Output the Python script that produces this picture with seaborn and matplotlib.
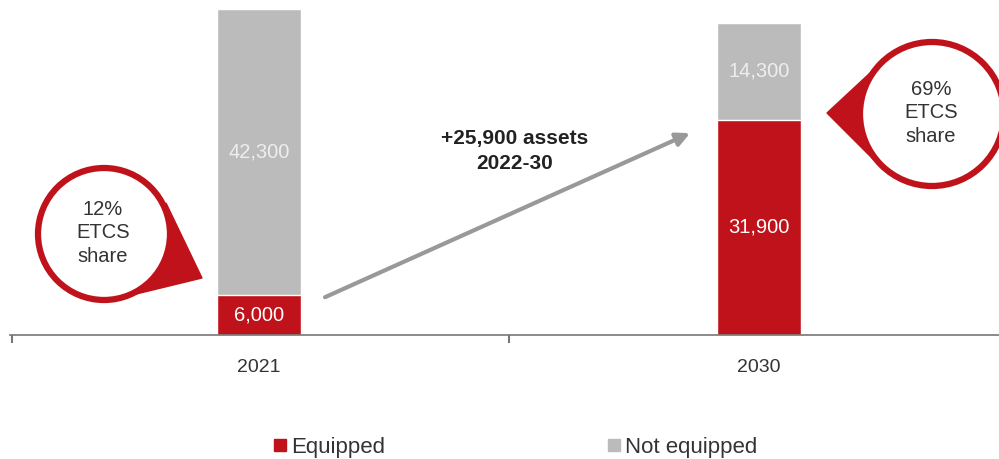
import matplotlib
matplotlib.use("Agg")
import matplotlib.pyplot as plt
import seaborn as sns
import pandas as pd
import numpy as np
from matplotlib.patches import Circle, Polygon
from matplotlib.lines import Line2D

# data
years = ["2021", "2030"]
equipped = [6000, 31900]
not_equipped = [42300, 14300]
share_labels = ["12%\nETCS\nshare", "69%\nETCS\nshare"]
growth_label = "+25,900 assets\n2022-30"

RED = "#c0121a"
GREY = "#bbbbbb"
TXT = "#333333"

df = pd.DataFrame({"Year": years, "Equipped": equipped, "NotEquipped": not_equipped})
df["Total"] = df["Equipped"] + df["NotEquipped"]

sns.set_style("white")
plt.rcParams["font.family"] = ["Liberation Sans", "DejaVu Sans"]

fig = plt.figure(figsize=(9.99, 4.59), dpi=100)
ax = fig.add_axes([10 / 999, (459 - 335) / 459, 989 / 999, (335 - 9) / 459])

# stacked bars: grey total behind, red equipped in front
sns.barplot(data=df, x="Year", y="Total", color=GREY, width=0.168, saturation=1, ax=ax)
sns.barplot(data=df, x="Year", y="Equipped", color=RED, width=0.168, saturation=1, ax=ax)

ax.set_xlim(-0.498, 1.48)
ax.set_ylim(0, 48300)
ax.set_xlabel("")
ax.set_ylabel("")
ax.set_yticks([])
for s in ["top", "right", "left"]:
    ax.spines[s].set_visible(False)
ax.spines["bottom"].set_color("#777777")
ax.spines["bottom"].set_linewidth(1.2)
ax.tick_params(axis="x", which="major", length=0, pad=17, labelsize=14, labelcolor=TXT)
ax.set_xticks([-0.495, 0.5], minor=True)
ax.tick_params(axis="x", which="minor", bottom=True, length=6, width=1.5,
               color="#777777", direction="out")

# segment labels
for i, row in df.iterrows():
    ax.text(i, row["Equipped"] / 2, f"{row['Equipped']:,}", ha="center", va="center",
            color="white", fontsize=14.5)
    ax.text(i, row["Equipped"] + row["NotEquipped"] / 2, f"{row['NotEquipped']:,}",
            ha="center", va="center", color="#eeeeee", fontsize=14.5)

# growth arrow
ax.annotate("", xy=(0.862, 29900), xytext=(0.132, 5600),
            arrowprops=dict(arrowstyle="-|>", color="#999999", lw=3, mutation_scale=20,
                            shrinkA=0, shrinkB=0))
ax.text(0.512, 27300, growth_label, ha="center", va="center", fontsize=15,
        fontweight="bold", color="#222222", linespacing=1.4)

# speech bubbles in pixel coordinates
ov = fig.add_axes([0, 0, 1, 1], zorder=5)
ov.set_xlim(0, 999)
ov.set_ylim(459, 0)
ov.axis("off")
ov.patch.set_alpha(0)

bubbles = [
    dict(c=(104, 234), r=66, tip=(202, 278), base=[(166, 203), (128, 296)], txt=share_labels[0]),
    dict(c=(932, 114), r=72, tip=(827, 113), base=[(884, 60), (880, 166)], txt=share_labels[1]),
]
for b in bubbles:
    ov.add_patch(Polygon([b["tip"]] + b["base"], closed=True, facecolor=RED, edgecolor=RED, lw=1))
    ov.add_patch(Circle(b["c"], b["r"], facecolor="white", edgecolor=RED, lw=4.5))
    ov.text(b["c"][0] - 1, b["c"][1] - 1, b["txt"], ha="center", va="center",
            fontsize=14.5, color=TXT, linespacing=1.3)

# legend
handles = [Line2D([], [], marker="s", linestyle="none", color=RED, markersize=8),
           Line2D([], [], marker="s", linestyle="none", color=GREY, markersize=8)]
fig.legend(handles, ["Equipped", "Not equipped"], loc="center", ncol=2,
           bbox_to_anchor=(515 / 999, 12 / 459), frameon=False, fontsize=16,
           handlelength=0.6, handletextpad=0.2, columnspacing=10, labelcolor=TXT)

fig.savefig("out.png", dpi=100)
